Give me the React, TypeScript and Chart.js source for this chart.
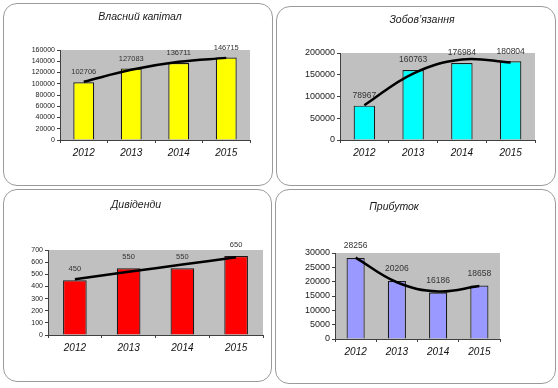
import React, { useEffect, useRef } from 'react';
import { Chart, registerables } from 'chart.js';

Chart.register(...registerables);

const years = ['2012', '2013', '2014', '2015'];

const equityValues = [102706, 127083, 136711, 146715];
const equityTrend = [103500, 124800, 139000, 146000];
const equityTicks = { max: 160000, step: 20000 };

const liabilitiesValues = [78967, 160763, 176984, 180804];
const liabilitiesTrend = [80000, 152800, 185000, 178100];
const liabilitiesTicks = { max: 200000, step: 50000 };

const dividendValues = [450, 550, 550, 650];
const dividendTrend = [460, 520, 580, 640];
const dividendTicks = { max: 700, step: 100 };

const profitValues = [28256, 20206, 16186, 18658];
const profitTrend = [28400, 19800, 16600, 18500];
const profitTicks = { max: 30000, step: 5000 };

const FONT = "'Liberation Sans', Arial, sans-serif";

type PanelCfg = {
  title: string;
  values: number[];
  trend: number[];
  ticks: { max: number; step: number };
  color: string;
  box: { left: number; top: number; w: number; h: number };
  plot: { l: number; r: number; t: number; b: number };
  titlePos: { x: number; y: number };
  yFont: number;
  labelFont: number;
  labelOffset: number;
};

const panels: PanelCfg[] = [
  {
    title: 'Власний капітал',
    values: equityValues,
    trend: equityTrend,
    ticks: equityTicks,
    color: '#FFFF00',
    box: { left: 3, top: 3, w: 270, h: 183 },
    plot: { l: 57, r: 247, t: 47, b: 137 },
    titlePos: { x: 137, y: 14 },
    yFont: 7,
    labelFont: 7.5,
    labelOffset: 10,
  },
  {
    title: 'Зобов\u2019язання',
    values: liabilitiesValues,
    trend: liabilitiesTrend,
    ticks: liabilitiesTicks,
    color: '#00FFFF',
    box: { left: 276, top: 6, w: 280, h: 180 },
    plot: { l: 64, r: 259, t: 47, b: 134 },
    titlePos: { x: 146, y: 14 },
    yFont: 9,
    labelFont: 8.5,
    labelOffset: 10,
  },
  {
    title: 'Дивіденди',
    values: dividendValues,
    trend: dividendTrend,
    ticks: dividendTicks,
    color: '#FF0000',
    box: { left: 3, top: 189, w: 269, h: 193 },
    plot: { l: 45, r: 260, t: 61, b: 146 },
    titlePos: { x: 133, y: 16 },
    yFont: 7,
    labelFont: 7.5,
    labelOffset: 11,
  },
  {
    title: 'Прибуток',
    values: profitValues,
    trend: profitTrend,
    ticks: profitTicks,
    color: '#9999FF',
    box: { left: 275, top: 189, w: 281, h: 195 },
    plot: { l: 60, r: 225, t: 64, b: 150 },
    titlePos: { x: 119, y: 18 },
    yFont: 9,
    labelFont: 8.5,
    labelOffset: 12,
  },
];

const Y_AXIS_W = 40;
const X_AXIS_H = 20;

function Panel({ cfg }: { cfg: PanelCfg }) {
  const ref = useRef<HTMLCanvasElement | null>(null);

  useEffect(() => {
    if (!ref.current) return;
    const { box, plot } = cfg;

    const bgPlugin = {
      id: 'plotBg',
      beforeDraw(chart: any) {
        const { ctx, chartArea } = chart;
        ctx.save();
        ctx.fillStyle = '#C0C0C0';
        ctx.fillRect(chartArea.left, chartArea.top, chartArea.right - chartArea.left, chartArea.bottom - chartArea.top);
        ctx.restore();
      },
    };

    const textPlugin = {
      id: 'texts',
      afterDraw(chart: any) {
        const { ctx } = chart;
        ctx.save();
        ctx.fillStyle = '#1a1a1a';
        ctx.font = `italic 10.5px ${FONT}`;
        ctx.textAlign = 'center';
        ctx.textBaseline = 'middle';
        ctx.fillText(cfg.title, cfg.titlePos.x, cfg.titlePos.y);

        const meta = chart.getDatasetMeta(1);
        ctx.font = `${cfg.labelFont}px ${FONT}`;
        ctx.fillStyle = '#333333';
        meta.data.forEach((bar: any, i: number) => {
          ctx.fillText(String(cfg.values[i]), bar.x, bar.y - cfg.labelOffset);
        });
        ctx.restore();
      },
    };

    const chart = new Chart(ref.current, {
      type: 'bar',
      data: {
        labels: years,
        datasets: [
          {
            type: 'line',
            data: cfg.trend,
            borderColor: '#000000',
            borderWidth: 2.5,
            pointRadius: 0,
            tension: 0.4,
            fill: false,
            order: 0,
          } as any,
          {
            type: 'bar',
            data: cfg.values,
            backgroundColor: cfg.color,
            borderColor: '#1a1a1a',
            borderWidth: 1.2,
            barPercentage: 0.44,
            categoryPercentage: 1,
            order: 1,
          },
        ],
      },
      options: {
        responsive: false,
        animation: false,
        devicePixelRatio: 1,
        layout: {
          padding: {
            left: plot.l - Y_AXIS_W,
            right: box.w - plot.r,
            top: plot.t,
            bottom: box.h - plot.b - X_AXIS_H,
          },
        },
        plugins: {
          legend: { display: false },
          tooltip: { enabled: false },
          title: { display: false },
        },
        scales: {
          x: {
            type: 'category',
            offset: true,
            grid: {
              offset: true,
              drawOnChartArea: false,
              drawTicks: true,
              tickLength: 3,
              color: '#404040',
            },
            border: { display: true, color: '#404040', width: 1 },
            ticks: {
              autoSkip: false,
              maxRotation: 0,
              padding: 4,
              color: '#111111',
              font: { family: FONT, size: 10, style: 'italic' },
            },
            afterFit: (s: any) => {
              s.height = X_AXIS_H;
            },
          },
          y: {
            min: 0,
            max: cfg.ticks.max,
            grid: {
              drawOnChartArea: false,
              drawTicks: true,
              tickLength: 3,
              color: '#404040',
            },
            border: { display: true, color: '#404040', width: 1 },
            ticks: {
              stepSize: cfg.ticks.step,
              autoSkip: false,
              padding: 2,
              color: '#1a1a1a',
              font: { family: FONT, size: cfg.yFont },
              callback: (v: any) => String(v),
            },
            afterFit: (s: any) => {
              s.width = Y_AXIS_W;
            },
          },
        },
      },
      plugins: [bgPlugin, textPlugin],
    } as any);

    return () => chart.destroy();
  }, [cfg]);

  const { box } = cfg;
  return (
    <>
      <canvas
        ref={ref}
        width={box.w}
        height={box.h}
        style={{ position: 'absolute', left: box.left, top: box.top, width: box.w, height: box.h }}
      />
      <div
        style={{
          position: 'absolute',
          left: box.left,
          top: box.top,
          width: box.w,
          height: box.h,
          boxSizing: 'border-box',
          border: '1px solid #9a9a9a',
          borderRadius: 14,
          pointerEvents: 'none',
        }}
      />
    </>
  );
}

export default function App() {
  return (
    <div
      style={{
        position: 'fixed',
        left: 0,
        top: 0,
        width: 558,
        height: 388,
        background: '#ffffff',
        overflow: 'hidden',
      }}
    >
      {panels.map((p) => (
        <Panel key={p.title} cfg={p} />
      ))}
    </div>
  );
}
